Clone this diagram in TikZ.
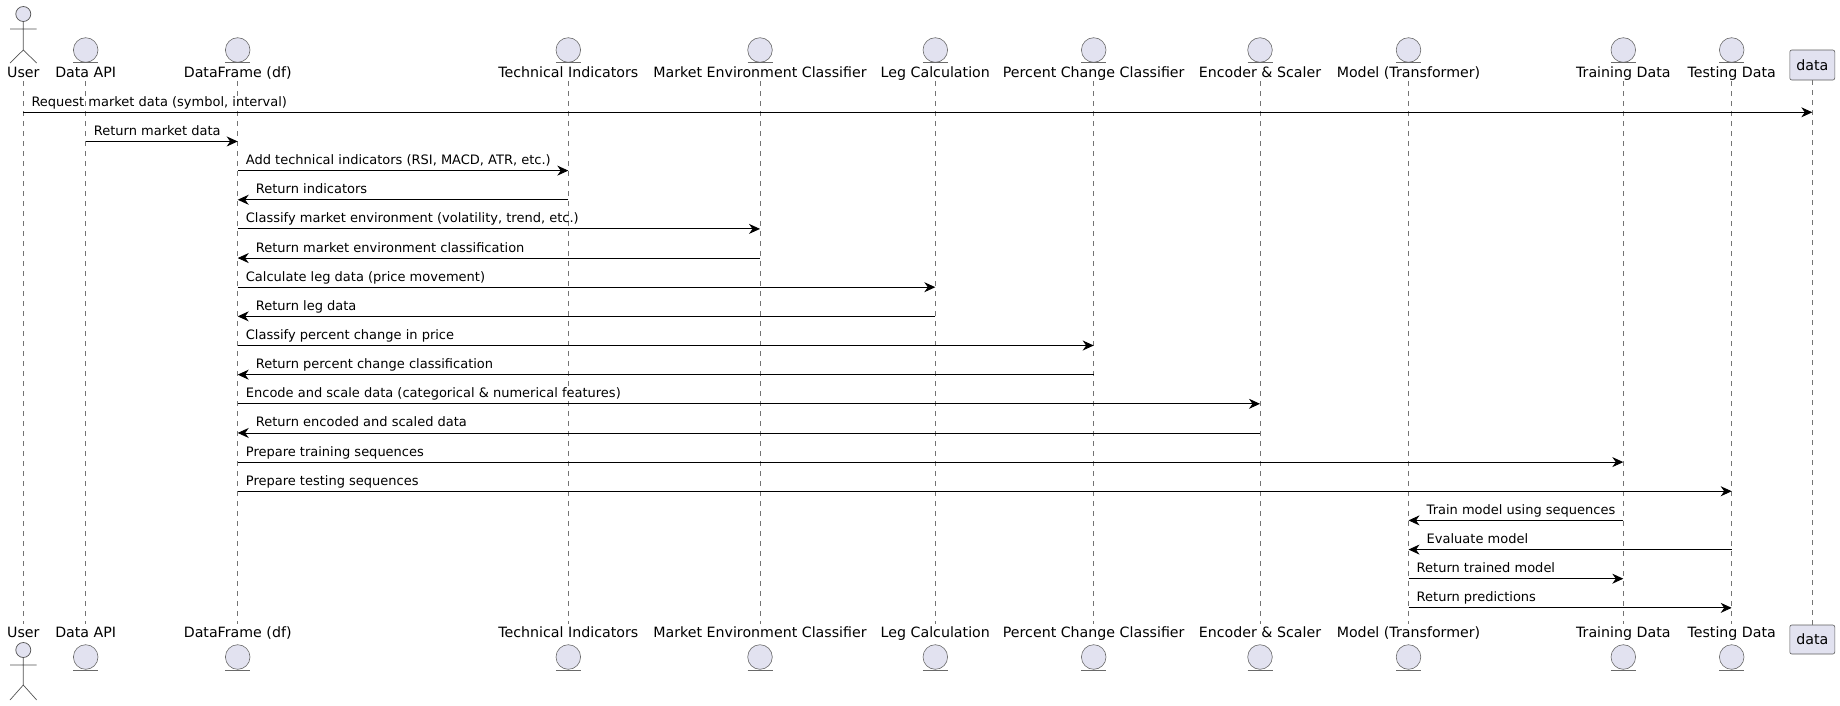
\documentclass[tikz,border=0pt]{standalone}
\usepackage{fontspec}
\setmainfont{DejaVu Sans}
\usetikzlibrary{arrows.meta}

\definecolor{partfill}{HTML}{E2E2F0}
\definecolor{partline}{HTML}{181818}

\tikzset{
  lbl/.style={font=\fontsize{14.2}{16}\selectfont, inner sep=0pt, anchor=base},
  msg/.style={-{Stealth[length=11pt,width=10pt,inset=3.5pt]}, line width=0.9pt},
  msgtxt/.style={font=\fontsize{13}{15}\selectfont, anchor=base west, inner sep=0pt},
  lifeline/.style={draw=partline!60, dash pattern=on 5pt off 5pt, line width=0.6pt},
  entcircle/.style={draw=partline!65, fill=partfill, line width=0.6pt},
  actorline/.style={draw=partline!75, line width=0.7pt},
}

\begin{document}
\begin{tikzpicture}[x=1pt,y=-1pt]
  \useasboundingbox (0,0) rectangle (1840,705);

  % participants: top labels
  \node[lbl] (user)  at (23.3,77)   {User};
  \node[lbl] (api)   at (85.7,77)   {Data API};
  \node[lbl] (df)    at (237.7,77)  {DataFrame (df)};
  \node[lbl] (ti)    at (568.3,77)  {Technical Indicators};
  \node[lbl] (mec)   at (760,77)    {Market Environment Classifier};
  \node[lbl] (leg)   at (935.3,77)  {Leg Calculation};
  \node[lbl] (pcc)   at (1093.7,77) {Percent Change Classifier};
  \node[lbl] (enc)   at (1260,77)   {Encoder \& Scaler};
  \node[lbl] (model) at (1408.5,77) {Model (Transformer)};
  \node[lbl] (train) at (1623.3,77) {Training Data};
  \node[lbl] (test)  at (1731.7,77) {Testing Data};
  \node[lbl, draw=partline!70, fill=partfill, rounded corners=2pt, line width=0.6pt,
        minimum width=45pt, minimum height=30pt, anchor=center] (data) at (1812.3,65) {data};

  % bottom labels
  \foreach \n/\t in {user/User, api/Data API, df/DataFrame (df), ti/Technical Indicators,
      mec/Market Environment Classifier, leg/Leg Calculation, pcc/Percent Change Classifier,
      enc/Encoder \& Scaler, model/Model (Transformer), train/Training Data, test/Testing Data}
    \node[lbl] (\n-bot) at ([yshift=-560pt]\n.base) {\t};
  \node[lbl, draw=partline!70, fill=partfill, rounded corners=2pt, line width=0.6pt,
        minimum width=45pt, minimum height=29pt, anchor=center] (data-bot) at (1812.3,639.5) {data};

  % lifelines
  \foreach \n in {user,api,df,ti,mec,leg,pcc,enc,model,train,test}
    \draw[lifeline] ([yshift=-4pt]\n.base) -- ([yshift=13pt]\n-bot.base);
  \draw[lifeline] (data.south) -- (data-bot.north);

  % entity symbols
  \foreach \n in {api,df,ti,mec,leg,pcc,enc,model,train,test} {
    \draw[entcircle] ([yshift=27pt]\n.base) circle (12.3);
    \draw[entcircle] ([yshift=14.5pt,xshift=-12.5pt]\n.base) -- ++(25,0);
    \draw[entcircle] ([yshift=-20pt]\n-bot.base) circle (12.3);
    \draw[entcircle] ([yshift=-33pt,xshift=-12.5pt]\n-bot.base) -- ++(25,0);
  }

  % actor symbols
  \draw[actorline, fill=partfill] (23.3,14) circle (7.5);
  \draw[actorline] (23.3,21.5) -- (23.3,50) (10,29) -- (36.7,29)
    (10,63) -- (23.3,50) -- (36.7,63);
  \draw[actorline, fill=partfill] (23.3,650) circle (7.5);
  \draw[actorline] (23.3,657.5) -- (23.3,685) (10,665) -- (36.7,665)
    (10,700) -- (23.3,685) -- (36.7,700);

  % messages to the right
  \foreach \i/\a/\b/\t in {1/user/data/{Request market data (symbol, interval)},
      2/api/df/{Return market data},
      3/df/ti/{Add technical indicators (RSI, MACD, ATR, etc.)},
      5/df/mec/{Classify market environment (volatility, trend, etc.)},
      7/df/leg/{Calculate leg data (price movement)},
      9/df/pcc/{Classify percent change in price},
      11/df/enc/{Encode and scale data (categorical \& numerical features)},
      13/df/train/{Prepare training sequences},
      14/df/test/{Prepare testing sequences},
      17/model/train/{Return trained model},
      18/model/test/{Return predictions}} {
    \coordinate (m\i) at (0,{112.3+(\i-1)*29.15});
    \draw[msg] (\a |- m\i) -- (\b |- m\i);
    \node[msgtxt] (t\i) at ([xshift=8pt,yshift=6pt]\a |- m\i) {\t};
  }

  % messages to the left
  \foreach \i/\a/\b/\t in {4/ti/df/{Return indicators},
      6/mec/df/{Return market environment classification},
      8/leg/df/{Return leg data},
      10/pcc/df/{Return percent change classification},
      12/enc/df/{Return encoded and scaled data},
      15/train/model/{Train model using sequences},
      16/test/model/{Evaluate model}} {
    \coordinate (m\i) at (0,{112.3+(\i-1)*29.15});
    \draw[msg] (\a |- m\i) -- (\b |- m\i);
    \node[msgtxt] (t\i) at ([xshift=18pt,yshift=6pt]\b |- m\i) {\t};
  }
\end{tikzpicture}
\end{document}
